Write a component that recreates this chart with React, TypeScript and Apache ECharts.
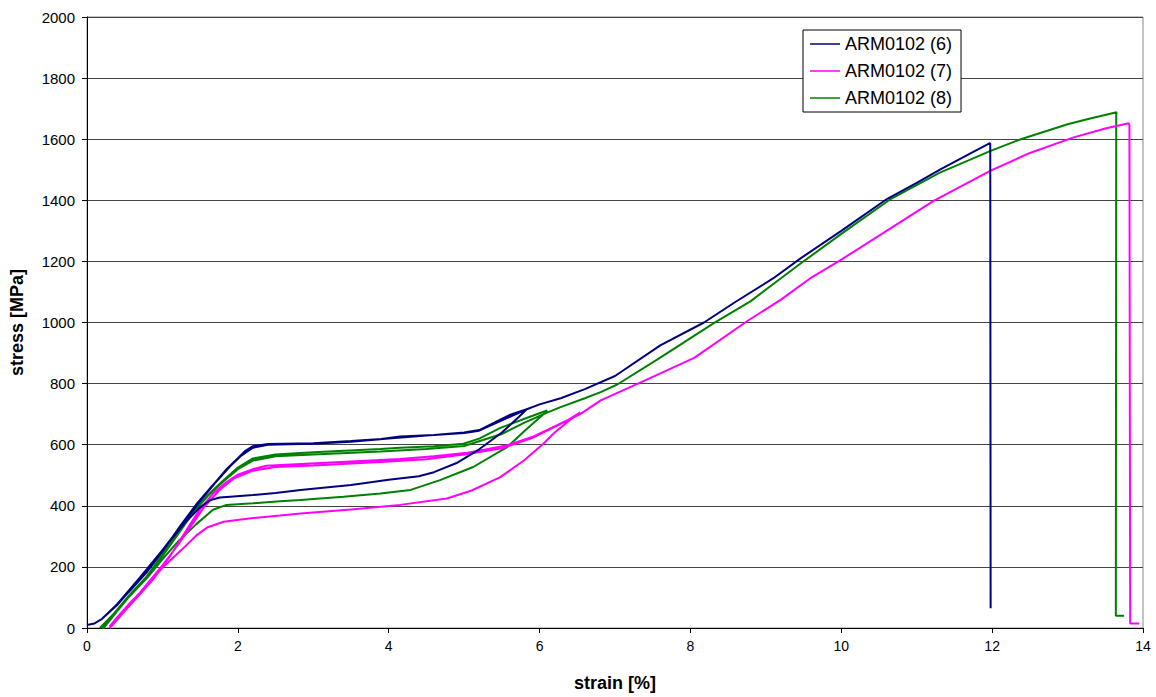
import React, { useEffect, useRef } from "react";
import * as echarts from "echarts";

const seriesNames = ["ARM0102 (6)", "ARM0102 (7)", "ARM0102 (8)"];
const seriesColors = ["#000080", "#ff00ff", "#008000"];

const xTicks = [0, 2, 4, 6, 8, 10, 12, 14];
const yTicks = [0, 200, 400, 600, 800, 1000, 1200, 1400, 1600, 1800, 2000];

// ARM0102 (6) [strain %, stress MPa]
const load6 = [[0,10],[0.1,15],[0.2,30],[0.35,65],[0.6,130],[0.8,185],[1.0,250],[1.23,332],[1.45,405],[1.67,468],[1.85,520],[2.0,556],[2.1,580],[2.2,595],[2.4,602],[3.0,605],[3.5,612],[3.9,619],[4.15,627],[4.6,632],[5.0,640],[5.2,648],[5.4,672],[5.6,697],[5.83,716]];
const unload6 = [[5.7,685],[5.5,640],[5.2,585],[4.9,540],[4.6,510],[4.4,497],[4.0,485],[3.5,468],[2.83,452],[2.5,442],[2.2,435],[1.9,430],[1.76,427],[1.63,418],[1.5,395],[1.3,345],[1.0,255],[0.7,160],[0.4,75],[0.2,30],[0.1,15]];
const reload6 = [[0.2,30],[0.4,78],[0.7,165],[1.0,255],[1.25,335],[1.5,415],[1.7,475],[1.9,530],[2.05,565],[2.2,590],[2.4,600],[3.0,603],[3.5,610],[4.0,620],[4.5,630],[5.0,638],[5.2,646],[5.5,680],[5.83,716]];
const post6 = [[6.0,732],[6.28,752],[6.6,782],[7.0,825],[7.6,925],[8.18,1000],[8.6,1068],[9.1,1145],[9.46,1210],[10.0,1300],[10.61,1405],[11.0,1457],[11.32,1502],[11.7,1552],[11.97,1587],[11.975,1585],[11.98,65]];

// ARM0102 (7)
const load7 = [[0.3,0],[0.5,55],[0.7,110],[0.88,160],[1.1,235],[1.37,340],[1.5,390],[1.67,440],[1.85,478],[2.0,502],[2.2,520],[2.38,531],[2.83,537],[3.5,545],[4.15,553],[4.6,562],[5.04,574],[5.3,585],[5.57,598],[5.9,625],[6.2,660],[6.37,680],[6.54,706]];
const unload7 = [[6.4,680],[6.2,640],[6.05,603],[5.8,550],[5.48,494],[5.1,450],[4.77,424],[4.15,403],[3.5,388],[2.83,375],[2.56,368],[2.2,360],[1.81,348],[1.6,330],[1.46,305],[1.25,255],[1.01,200],[0.8,140],[0.57,82],[0.4,35],[0.3,5]];
const reload7 = [[0.32,5],[0.55,70],[0.8,145],[1.0,205],[1.2,270],[1.37,330],[1.55,395],[1.75,450],[1.95,490],[2.2,515],[2.5,527],[3.0,532],[3.89,543],[4.5,552],[5.0,568],[5.5,588],[5.9,622],[6.54,700]];
const post7 = [[6.81,745],[7.29,798],[8.05,884],[8.75,1004],[9.2,1075],[9.59,1145],[9.99,1204],[10.6,1300],[11.23,1399],[11.98,1497],[12.5,1555],[13.08,1606],[13.5,1635],[13.81,1652],[13.82,1645],[13.83,15],[13.95,15]];

// ARM0102 (8)
const load8 = [[0.17,0],[0.35,45],[0.57,110],[0.79,168],[1.0,240],[1.2,310],[1.37,370],[1.6,435],[1.81,484],[2.0,525],[2.2,555],[2.5,568],[3.0,575],[3.89,586],[4.15,590],[4.6,595],[4.99,603],[5.2,620],[5.48,655],[5.8,685],[6.1,712]];
const unload8 = [[6.05,700],[5.8,645],[5.57,592],[5.12,527],[4.68,484],[4.29,452],[3.89,440],[3.4,430],[2.83,419],[2.56,415],[2.2,408],[1.85,403],[1.67,387],[1.45,340],[1.23,289],[1.0,225],[0.8,165],[0.57,105],[0.4,60],[0.24,10],[0.2,0]];
const reload8 = [[0.22,0],[0.4,55],[0.6,115],[0.8,170],[1.0,235],[1.2,305],[1.4,375],[1.6,432],[1.8,478],[2.0,520],[2.2,548],[2.5,562],[3.0,568],[3.89,578],[4.5,586],[5.0,596],[5.5,635],[5.8,672],[6.1,705]];
const post8 = [[6.27,722],[6.6,752],[6.81,772],[7.03,797],[7.6,885],[8.31,998],[8.8,1070],[9.2,1145],[9.46,1193],[10.0,1290],[10.66,1405],[11.3,1490],[11.98,1562],[12.38,1600],[13.0,1649],[13.3,1668],[13.65,1688],[13.645,1680],[13.64,40],[13.75,40]];

const seriesData = [
  [...load6, ...unload6, ...reload6, ...post6],
  [...load7, ...unload7, ...reload7, ...post7],
  [...load8, ...unload8, ...reload8, ...post8],
];

const FONT = "'Liberation Sans', Arial, sans-serif";

export default function App() {
  const ref = useRef<HTMLDivElement>(null);
  useEffect(() => {
    document.body.style.margin = "0";
    const chart = echarts.init(ref.current!, null, { renderer: "svg" });
    chart.setOption({
      animation: false,
      backgroundColor: "#ffffff",
      textStyle: { fontFamily: FONT },
      grid: {
        left: 87,
        right: 13,
        top: 17,
        bottom: 65,
        show: true,
        borderColor: "#888",
        borderWidth: 1,
        containLabel: false,
      },
      legend: {
        orient: "vertical",
        left: 803,
        top: 30,
        data: seriesNames,
        icon: "rect",
        itemWidth: 30,
        itemHeight: 1.5,
        itemGap: 9,
        itemTextGap: 5,
        padding: [5, 9, 5, 7],
        borderColor: "#000",
        borderWidth: 1,
        backgroundColor: "#fff",
        borderRadius: 0,
        textStyle: { fontFamily: FONT, fontSize: 18, color: "#000" },
      },
      xAxis: {
        type: "value",
        min: 0,
        max: 14,
        interval: 2,
        name: "strain [%]",
        nameLocation: "middle",
        nameGap: 46,
        nameTextStyle: { fontFamily: FONT, fontSize: 18, fontWeight: "bold", color: "#000" },
        axisLine: { show: true, lineStyle: { color: "#000", width: 1 } },
        axisTick: { show: true, inside: false, length: 5, lineStyle: { color: "#000" } },
        axisLabel: {
          color: "#000",
          fontSize: 14,
          margin: 11,
          fontFamily: FONT,
          formatter: (v: number) => (xTicks.includes(v) ? String(v) : ""),
        },
        splitLine: { show: false },
      },
      yAxis: {
        type: "value",
        min: 0,
        max: 2000,
        interval: 200,
        name: "stress [MPa]",
        nameLocation: "middle",
        nameGap: 61,
        nameRotate: 90,
        nameTextStyle: { fontFamily: FONT, fontSize: 18, fontWeight: "bold", color: "#000" },
        axisLine: { show: true, lineStyle: { color: "#000", width: 1 } },
        axisTick: { show: true, inside: false, length: 5, lineStyle: { color: "#000" } },
        axisLabel: {
          color: "#000",
          fontSize: 15,
          margin: 12,
          fontFamily: FONT,
          formatter: (v: number) => (yTicks.includes(v) ? String(v) : ""),
        },
        splitLine: { show: true, lineStyle: { color: "#444", width: 1 } },
      },
      series: seriesNames.map((name, i) => ({
        name,
        type: "line",
        data: seriesData[i],
        symbol: "none",
        showSymbol: false,
        smooth: false,
        color: seriesColors[i],
        lineStyle: { color: seriesColors[i], width: 2 },
        emphasis: { disabled: true },
        z: 3 - i,
      })),
    });
    return () => chart.dispose();
  }, []);
  return <div ref={ref} style={{ width: 1156, height: 697 }} />;
}
